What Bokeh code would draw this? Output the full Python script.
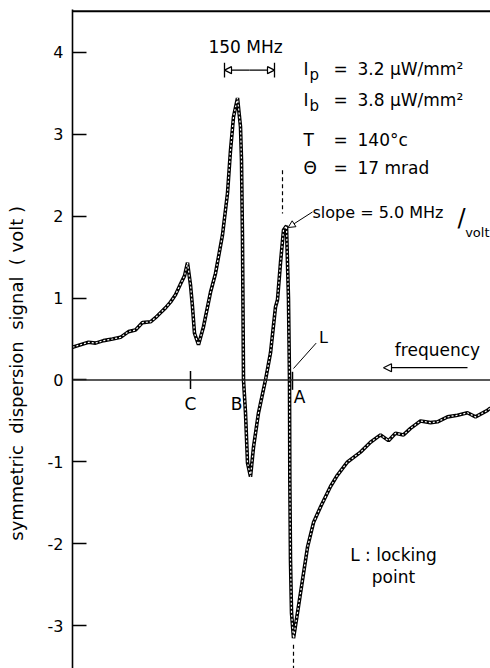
from bokeh.plotting import figure
from bokeh.models import Range1d, LinearAxis, FixedTicker, Span, Label, Arrow, NormalHead
from bokeh.embed import file_html
from bokeh.resources import INLINE

# frequency offset (MHz, relative) and symmetric dispersion signal (volt)
freq_mhz = [0, 24, 48, 69, 93, 120, 144, 168, 189, 210, 234, 249, 264, 279, 294, 309,
            324, 336, 345, 354, 360, 366, 378, 393, 414, 429, 450, 465, 474, 483, 495,
            504, 507, 510, 513, 519, 525, 534, 543, 558, 579, 594, 609, 615, 624, 633,
            642, 648, 651, 652, 654, 657, 663, 675, 690, 705, 723, 744, 774, 795, 825,
            864, 894, 924, 948, 969, 993, 1014, 1044, 1074, 1095, 1125, 1155, 1185,
            1209, 1245, 1254]
signal_volt = [0.40, 0.43, 0.46, 0.45, 0.48, 0.50, 0.52, 0.59, 0.61, 0.70, 0.71, 0.76,
               0.82, 0.88, 0.95, 1.04, 1.17, 1.27, 1.43, 1.16, 0.89, 0.57, 0.43, 0.65,
               1.07, 1.30, 1.77, 2.28, 2.80, 3.21, 3.44, 3.09, 2.68, 1.71, 0.0, -0.40,
               -1.01, -1.18, -0.82, -0.40, 0.0, 0.33, 0.89, 0.98, 1.43, 1.83, 1.88, 0.98,
               0.0, -1.22, -2.20, -2.84, -3.15, -2.84, -2.44, -2.04, -1.74, -1.55, -1.30,
               -1.16, -1.00, -0.88, -0.76, -0.67, -0.74, -0.65, -0.67, -0.59, -0.50,
               -0.52, -0.51, -0.45, -0.43, -0.40, -0.45, -0.37, -0.34]

y_ticks = [-3, -2, -1, 0, 1, 2, 3, 4]
y_tick_labels = ["-3", "-2", "-1", "0", "1", "2", "3", "4"]

point_names = ["C", "B", "A"]
point_freqs = [354, 492, 681]

FONT = "DejaVu Sans"
NB = "\u00a0"
axis_title = (NB * 2).join(["symmetric", "dispersion", "signal", "(" + NB + "volt" + NB + ")"]) + NB * 12

p = figure(width=490, height=668, output_backend="svg", toolbar_location=None,
           x_range=Range1d(0, 1254), y_range=Range1d(-3.52, 4.52),
           x_axis_type=None, y_axis_type=None,
           min_border_left=72, min_border_right=0, min_border_top=9, min_border_bottom=0)
p.outline_line_color = None
p.background_fill_color = "white"

yaxis = LinearAxis(ticker=FixedTicker(ticks=y_ticks),
                   major_label_overrides={t: l for t, l in zip(y_ticks, y_tick_labels)},
                   major_tick_in=14, major_tick_out=0, minor_tick_in=0, minor_tick_out=0,
                   major_tick_line_width=1.5, axis_line_width=1.6,
                   major_label_text_font_size="16px", major_label_text_font=FONT,
                   major_label_text_color="black", major_label_standoff=9,
                   axis_label=axis_title,
                   axis_label_text_font_size="18px", axis_label_text_font_style="normal",
                   axis_label_text_font=FONT, axis_label_text_color="black",
                   axis_label_standoff=18)
p.add_layout(yaxis, "left")

# top border and zero line
p.add_layout(Span(location=4.5, dimension="width", line_color="black", line_width=2))
p.add_layout(Span(location=0, dimension="width", line_color="#222222", line_width=1.6))

# curve (beaded look)
p.line(freq_mhz, signal_volt, line_color="black", line_width=3.6)
p.line(freq_mhz, signal_volt, line_color="white", line_width=1.2, line_dash="2 2")

# small ticks at C and A
p.segment(x0=[354, 660], y0=[0.11, 0.1], x1=[354, 660], y1=[-0.11, -0.12],
          line_color="black", line_width=1.5)

def lab(x, y, text, size="15px", align="left", baseline="middle", xo=0, yo=0):
    p.add_layout(Label(x=x, y=y, text=text, text_font=FONT, text_font_size=size,
                       text_align=align, text_baseline=baseline, x_offset=xo, y_offset=yo,
                       text_color="black"))

for n, f in zip(point_names, point_freqs):
    lab(f, -0.29 if n != "A" else -0.21, n, size="17px", align="center")

# 150 MHz marker
lab(519, 4.06, "150 MHz", size="17px", align="center")
p.add_layout(Arrow(x_start=531, y_start=3.78, x_end=456, y_end=3.78, line_width=1.2,
                   end=NormalHead(size=7, fill_color="white", line_width=1.2)))
p.add_layout(Arrow(x_start=531, y_start=3.78, x_end=606, y_end=3.78, line_width=1.2,
                   end=NormalHead(size=7, fill_color="white", line_width=1.2)))
p.segment(x0=[456, 606], y0=[3.87, 3.87], x1=[456, 606], y1=[3.69, 3.69],
          line_color="black", line_width=1.3)

# parameter block
rows = [(3.80, "I", "p", "3.2 µW/mm²"), (3.41, "I", "b", "3.8 µW/mm²"),
        (2.93, "T", "", "140°c"), (2.59, "Θ", "", "17 mrad")]
for y, sym, sub, val in rows:
    lab(693, y, sym, size="17px")
    if sub:
        lab(693, y, sub, size="15px", xo=6, yo=-6)
    lab(804, y, "=", size="17px", align="center")
    lab(855, y, val, size="17px")

# slope annotation
lab(720, 2.04, "slope = 5.0 MHz", size="16px")
lab(1155, 2.0, "/", size="24px", yo=-2)
lab(1254, 1.80, "volt", size="13px", align="right", xo=-1)
p.add_layout(Arrow(x_start=720, y_start=2.05, x_end=647, y_end=1.86, line_width=1,
                   end=NormalHead(size=7, fill_color="white", line_width=1)))
p.segment(x0=[630, 663], y0=[2.56, -3.23], x1=[630, 663], y1=[2.03, -3.52],
          line_color="black", line_width=1.2, line_dash="4 3")

# locking point
lab(753, 0.52, "L", size="16px", align="center")
p.segment(x0=[731], y0=[0.45], x1=[663], y1=[0.14], line_color="black", line_width=1)

# frequency arrow
lab(1095, 0.37, "frequency", size="17px", align="center")
p.add_layout(Arrow(x_start=1185, y_start=0.15, x_end=933, y_end=0.15, line_width=1.2,
                   end=NormalHead(size=8, fill_color="white", line_width=1.2)))

lab(963, -2.13, "L : locking", size="17px", align="center")
lab(963, -2.40, "point", size="17px", align="center")

open("out.html", "w").write(file_html(p, INLINE))
